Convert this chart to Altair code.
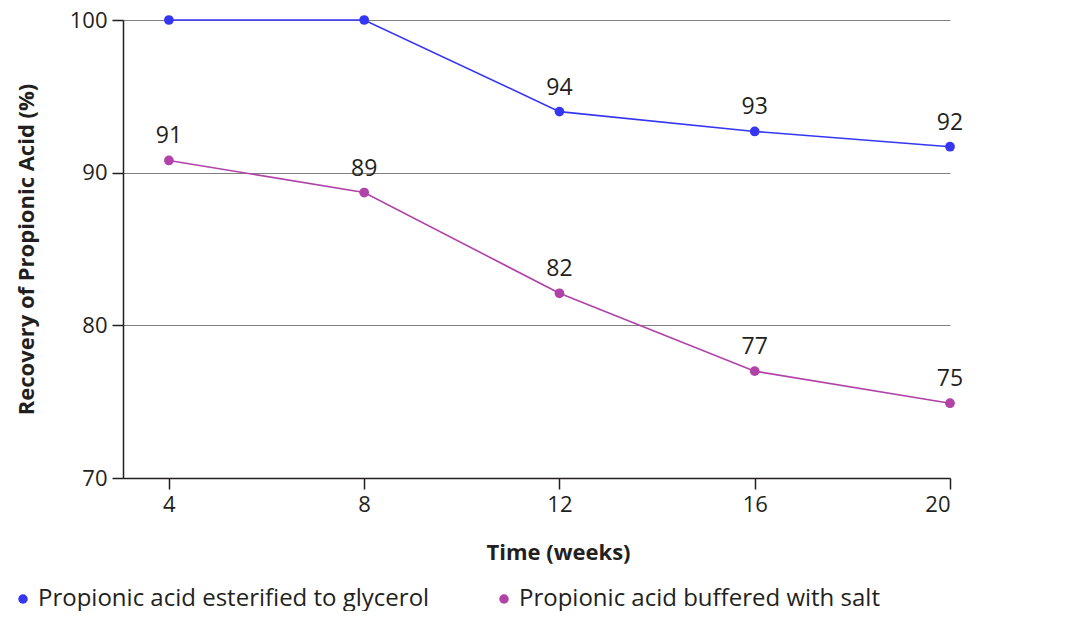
import altair as alt
import pandas as pd

weeks = [4, 8, 12, 16, 20]
series_names = ["Propionic acid esterified to glycerol", "Propionic acid buffered with salt"]
glycerol = [100.0, 100.0, 94.0, 92.7, 91.7]
salt = [90.8, 88.7, 82.1, 77.0, 74.9]
colors = ["#3636f2", "#b042a8"]
x_ticks = [4, 8, 12, 16, 20]
y_ticks = [70, 80, 90, 100]

rows = []
for w, v in zip(weeks, glycerol):
    rows.append({"week": w, "value": v, "series": series_names[0]})
for w, v in zip(weeks, salt):
    rows.append({"week": w, "value": v, "series": series_names[1]})
df = pd.DataFrame(rows)
# points at 100 carry no label in the reference
df["label_text"] = df["value"].apply(lambda v: "" if v >= 100 else str(int(round(v))))

FONT = "Open Sans"
TXT = "#231f20"

x_enc = alt.X(
    "week:Q",
    scale=alt.Scale(domain=[3.06, 20], nice=False, zero=False),
    axis=alt.Axis(
        values=x_ticks, grid=False, title="Time (weeks)", labelFontSize=22, labelFont=FONT,
        labelColor=TXT, titleFont=FONT, titleFontSize=22, titleFontWeight="bold", titleColor=TXT,
        tickColor=TXT, domainColor=TXT, tickSize=11, tickWidth=1.5, domainWidth=1.5,
        labelPadding=5, titleX=435, titleY=81, titleBaseline="alphabetic",
        titleAlign="center",
    ),
)
y_enc = alt.Y(
    "value:Q",
    scale=alt.Scale(domain=[70, 100], nice=False, zero=False),
    axis=alt.Axis(
        values=y_ticks, grid=True, gridColor="#808080", gridWidth=1.2,
        title="Recovery of Propionic Acid (%)", labelFontSize=22, labelFont=FONT, labelColor=TXT,
        titleFont=FONT, titleFontSize=22, titleFontWeight="bold", titleColor=TXT,
        tickColor=TXT, domainColor=TXT, tickSize=11, tickWidth=1.5, domainWidth=1.5,
        labelPadding=5, titlePadding=31,
    ),
)
color_enc = alt.Color(
    "series:N",
    scale=alt.Scale(domain=series_names, range=colors),
    legend=alt.Legend(
        title=None, orient="none", legendX=-112, legendY=567, direction="horizontal",
        labelFont=FONT, labelFontSize=24, labelColor=TXT, symbolType="circle",
        symbolSize=90, symbolStrokeWidth=0, labelOffset=3, columnPadding=62,
        labelLimit=600,
    ),
)

base = alt.Chart(df)
lines = base.mark_line(strokeWidth=1.6).encode(x=x_enc, y=y_enc, color=color_enc)
points = base.mark_circle(size=95, opacity=1).encode(
    x=x_enc, y=y_enc,
    color=alt.Color("series:N", scale=alt.Scale(domain=series_names, range=colors), legend=None),
)
labels = base.mark_text(font=FONT, fontSize=23, color=TXT, dy=-12, baseline="bottom").encode(
    x=x_enc, y=y_enc, text="label_text:N"
)

chart = (
    alt.layer(lines, points, labels)
    .properties(
        width=827, height=458,
        autosize=alt.AutoSizeParams(type="none"),
        padding={"left": 115, "top": 12, "right": 122, "bottom": 133},
        view=alt.ViewBackground(strokeWidth=0, stroke="transparent"),
    )
    .configure_view(strokeWidth=0, stroke="transparent")
    .configure(background="white")
)

chart.save("out.html", embed_options={"renderer": "svg", "actions": False})
